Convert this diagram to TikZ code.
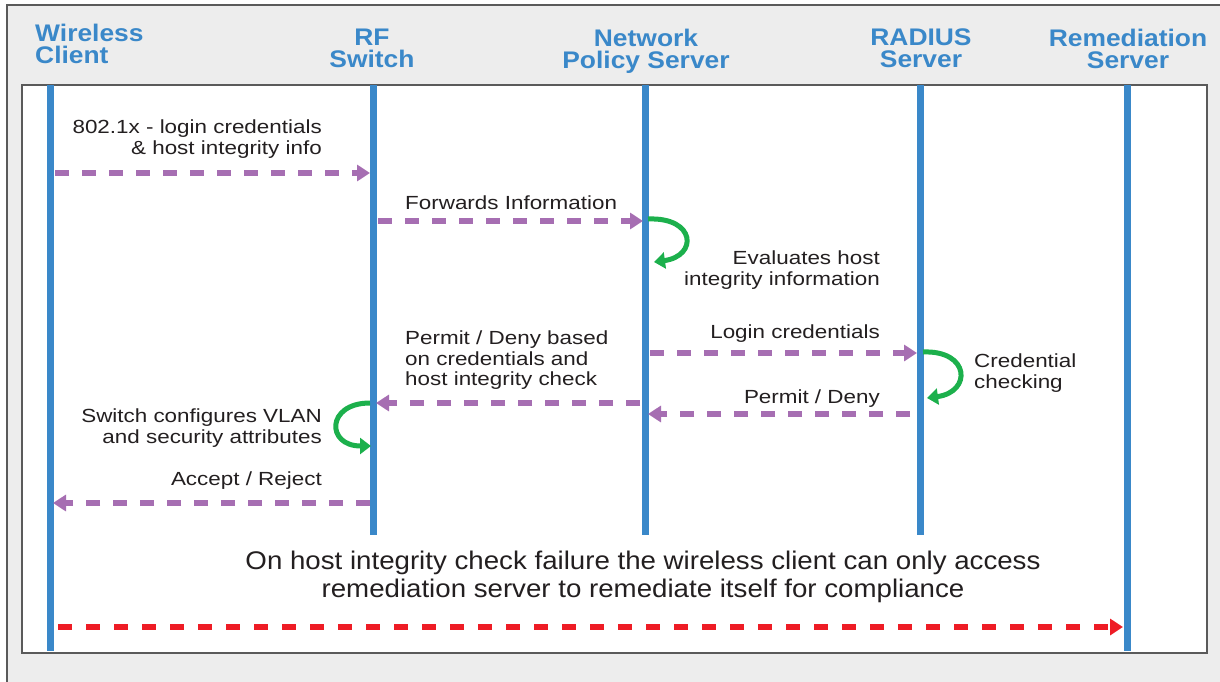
\documentclass[tikz,border=0pt]{standalone}
\usepackage{fontspec}
\setmainfont{Liberation Sans}
\newfontfamily\lblfont[FakeStretch=1.18]{Liberation Sans}
\newfontfamily\notefont[FakeStretch=1.085]{Liberation Sans}
\newfontfamily\headfont[FakeStretch=1.1]{Liberation Sans Bold}
\usetikzlibrary{arrows.meta}
\definecolor{lifeblue}{HTML}{3A88C9}
\definecolor{msgpurple}{HTML}{A66EB2}
\definecolor{loopgreen}{HTML}{1CB04C}
\definecolor{alertred}{HTML}{EE1C25}
\definecolor{panelgray}{HTML}{EDEDED}
\definecolor{framegray}{HTML}{5A5A5A}
\definecolor{txt}{HTML}{231F20}
\begin{document}
\begin{tikzpicture}[x=1pt,y=-1pt,
  lifeline/.style={draw=lifeblue,line width=7pt},
  head/.style={text=lifeblue,font=\headfont\fontsize{24}{22}\selectfont,inner sep=0pt,align=center},
  lbl/.style={text=txt,font=\lblfont\fontsize{19}{20.5}\selectfont,inner sep=0pt},
  msg/.style={draw=msgpurple,line width=6pt,dash pattern=on 14pt off 13pt,
    -{Triangle[length=13pt,width=16pt]}},
  alert/.style={draw=alertred,line width=6pt,dash pattern=on 14pt off 14pt,
    -{Triangle[length=13pt,width=16pt]}},
  selfloop/.style={draw=loopgreen,line width=5pt,-{Triangle[length=11pt,width=16pt]}}
]
\useasboundingbox (0,0) rectangle (1220,682);
% background panel and diagram frame
\fill[panelgray] (7,5) rectangle (1220,682);
\draw[framegray,line width=1.2pt] (7,682) -- (7,5) -- (1220,5);
\draw[framegray,line width=1.2pt,fill=white] (22,85) rectangle (1207,653);

% participants
\node[head,anchor=north west,align=left] (hwc) at (35,24) {Wireless\\Client};
\node[head,anchor=north] (hrf) at (372,29) {RF\\Switch};
\node[head,anchor=north] (hnps) at (646,29) {Network\\Policy Server};
\node[head,anchor=north] (hrad) at (921,29) {RADIUS\\Server};
\node[head,anchor=north] (hrem) at (1128,29) {Remediation\\Server};

% lifelines
\coordinate (wcT) at (50,85);   \coordinate (wcB) at (50,651);
\coordinate (rfT) at (373,85);  \coordinate (rfB) at (373,535);
\coordinate (npT) at (645,85);  \coordinate (npB) at (645,535);
\coordinate (raT) at (920,85);  \coordinate (raB) at (920,535);
\coordinate (reT) at (1127,85); \coordinate (reB) at (1127,651);
\draw[lifeline] (wcT) -- (wcB);
\draw[lifeline] (rfT) -- (rfB);
\draw[lifeline] (npT) -- (npB);
\draw[lifeline] (raT) -- (raB);
\draw[lifeline] (reT) -- (reB);

% message end points
\coordinate (m1a) at (55,173);  \coordinate (m1b) at (370,173);
\coordinate (m2a) at (378,221); \coordinate (m2b) at (643,221);
\coordinate (m3a) at (650,353); \coordinate (m3b) at (917,353);
\coordinate (m4a) at (910,414); \coordinate (m4b) at (648,414);
\coordinate (m5a) at (640,403); \coordinate (m5b) at (376,403);
\coordinate (m6a) at (370,503); \coordinate (m6b) at (53,503);
\coordinate (m7a) at (58,627);  \coordinate (m7b) at (1123,627);

\draw[msg] (m1a) -- (m1b);
\draw[msg] (m2a) -- (m2b);
\draw[msg] (m3a) -- (m3b);
\draw[msg] (m4a) -- (m4b);
\draw[msg] (m5a) -- (m5b);
\draw[msg] (m6a) -- (m6b);
\draw[alert] (m7a) -- (m7b);

% local processing loops
\coordinate (l1a) at (648,219); \coordinate (l1b) at (654,262);
\coordinate (l2a) at (923,352); \coordinate (l2b) at (927,398);
\coordinate (l3a) at (370,403); \coordinate (l3b) at (371,446);
\draw[selfloop] (l1a) .. controls (696,217) and (698,256) .. (l1b);
\draw[selfloop] (l2a) .. controls (970,350) and (972,392) .. (l2b);
\draw[selfloop] (l3a) .. controls (326,403) and (326,446) .. (l3b);

% labels
\node[lbl,anchor=north east,align=right] (t1) at (322,120) {802.1x - login credentials\\\& host integrity info};
\node[lbl,anchor=north west] (t2) at (405,196) {Forwards Information};
\node[lbl,anchor=north east,align=right] (t3) at (880,251) {Evaluates host\\integrity information};
\node[lbl,anchor=north east] (t4) at (880,325) {Login credentials};
\node[lbl,anchor=north west,align=left] (t5) at (974,354) {Credential\\checking};
\node[lbl,anchor=north east] (t6) at (880,390) {Permit / Deny};
\node[lbl,anchor=north west,align=left] (t7) at (405,331) {Permit / Deny based\\on credentials and\\host integrity check};
\node[lbl,anchor=north east,align=right] (t8) at (322,409) {Switch configures VLAN\\and security attributes};
\node[lbl,anchor=north east] (t9) at (322,472) {Accept / Reject};
\node[text=txt,font=\notefont\fontsize{25.5}{28}\selectfont,inner sep=0pt,align=center] (t10) at (643,577)
  {On host integrity check failure the wireless client can only access\\remediation server to remediate itself for compliance};
\end{tikzpicture}
\end{document}
